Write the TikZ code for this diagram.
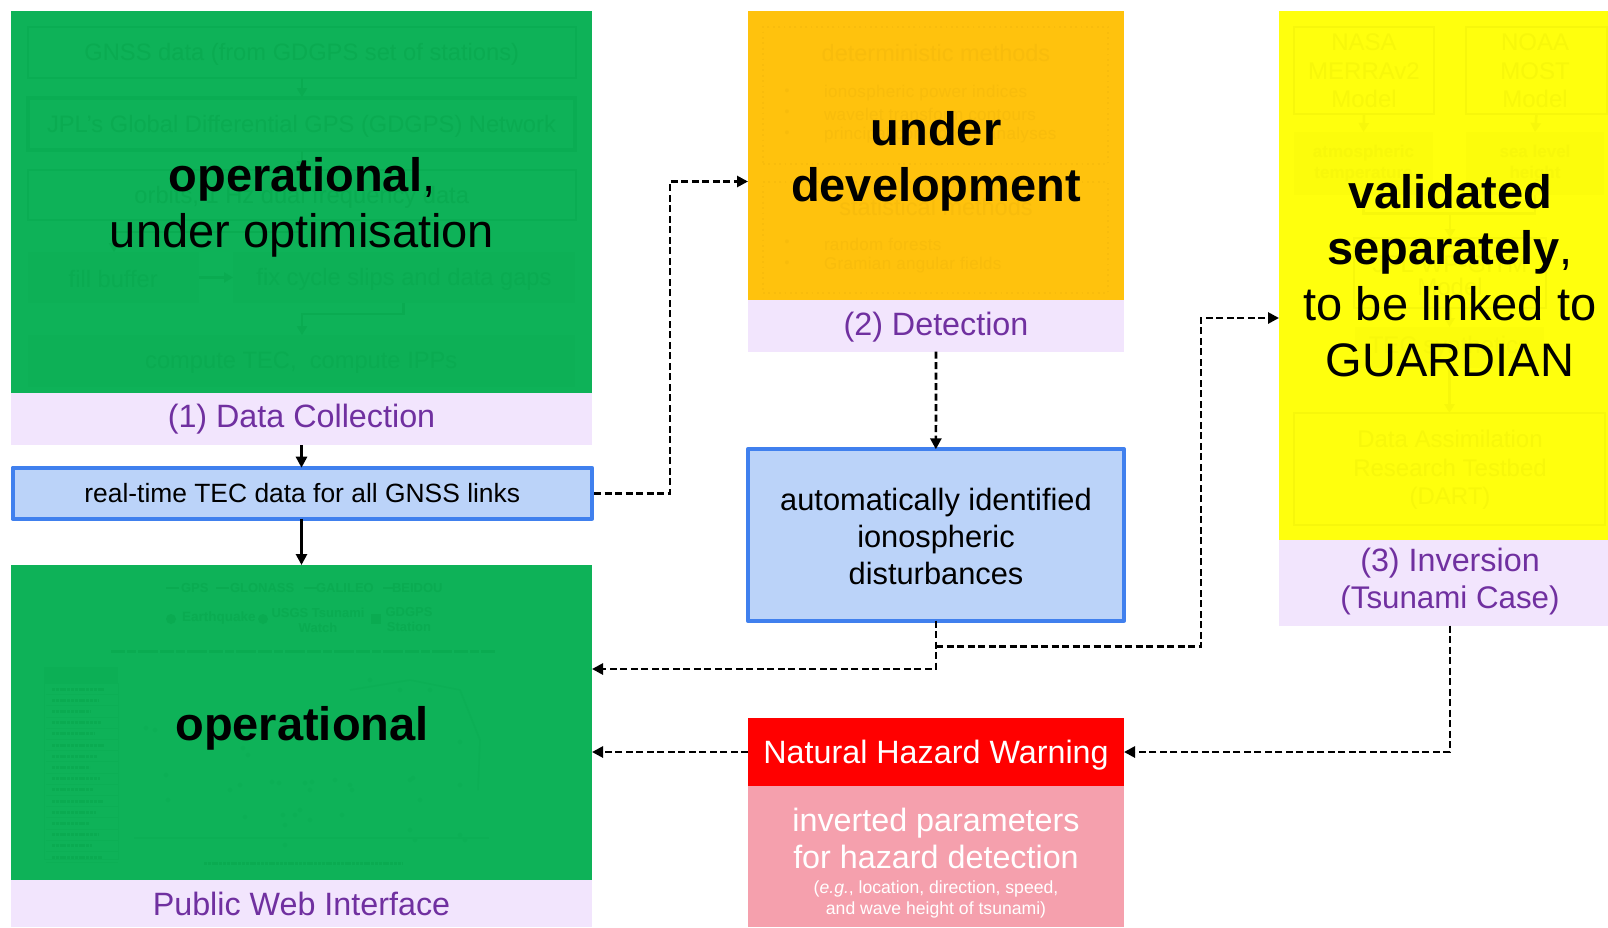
\documentclass[tikz,border=0pt]{standalone}
\usepackage{fontspec}
\setmainfont{Liberation Sans}
\usetikzlibrary{arrows.meta}
\definecolor{grn}{HTML}{0EB258}
\definecolor{grnf}{HTML}{0AAB51}
\definecolor{grnm}{HTML}{0CAF55}
\definecolor{grnl}{HTML}{0AAD53}
\definecolor{grns}{HTML}{0DB056}
\definecolor{org}{HTML}{FFC20D}
\definecolor{orgf}{HTML}{F8BC0C}
\definecolor{yel}{HTML}{FFFF0D}
\definecolor{yelf}{HTML}{F7F70B}
\definecolor{lilac}{HTML}{F2E5FD}
\definecolor{purp}{HTML}{7030A0}
\definecolor{bfill}{HTML}{BBD3F9}
\definecolor{bline}{HTML}{4080EE}
\definecolor{pinkb}{HTML}{F5A0AD}
\newcommand{\fsz}[1]{\fontsize{#1}{#1}\selectfont}
\newcommand{\low}[2][2pt]{\raisebox{0pt}[\dimexpr\height+2\dimexpr#1\relax\relax][\depth]{#2}}
\newcommand{\bx}[7]{\node[#2,minimum width={(#5-#3)*1pt},minimum height={(#6-#4)*1pt}] (#1) at ({(#3+#5)/2},{(#4+#6)/2}) {#7};}
\tikzset{
  x=1pt,y=-1pt,
  every node/.style={inner sep=0pt,outer sep=0pt},
  panel/.style={draw=none},
  lab/.style={fill=lilac,text=purp,align=center},
  bluebox/.style={fill=bfill,draw=bline,line width=4pt,line join=round,align=center},
  main/.style={align=center,text=black},
  conn/.style={draw=black,line width=2.7pt,-{Triangle[length=11pt,width=11pt]}},
  dconn/.style={conn,dash pattern=on 7pt off 3.5pt},
  gb/.style={draw=grnl,line width=2pt,text=grnf,font=\fsz{23.7}},
  gbt/.style={draw=grnl,line width=4pt,text=grnf,font=\fsz{23.7}},
  gbs/.style={fill=grns,text=grnf,font=\fsz{23.7}},
  gar/.style={draw=grnf,line width=2.5pt,-{Triangle[length=9pt,width=10pt]}},
  gpl/.style={draw=grnf,line width=2pt},
  gt/.style={text=grnf,align=center},
  ot/.style={text=orgf,align=center},
  odot/.style={draw=orgf,line width=1.8pt,dash pattern=on 1.8pt off 3.6pt},
  yb/.style={draw=yelf,line width=2pt},
  ybs/.style={fill=yelf!35!yel,text=yelf,align=center,font=\fsz{17}\bfseries\setlength{\baselineskip}{21pt}},
  yar/.style={draw=yelf,line width=2.5pt,-{Triangle[length=9pt,width=10pt]}},
  ypl/.style={draw=yelf,line width=2.5pt},
  yt/.style={text=yelf,align=center},
  grk/.style={draw=grnf,line width=3pt,dash pattern=on 3pt off .8pt},
}
\begin{document}
\begin{tikzpicture}
\useasboundingbox (0,0) rectangle (1608,927);
% ---- panels
\bx{dc}{panel,fill=grn}{11}{10.5}{592}{393}{}
\bx{labdc}{lab,font=\fsz{32.3}}{11}{393}{592}{445}{(1) Data Collection}
\bx{tec}{bluebox,font=\fsz{26.4}}{12.5}{467.7}{592}{518.7}{real-time TEC data for all GNSS links}
\bx{web}{panel,fill=grn}{11}{565}{592}{880}{}
\bx{labweb}{lab,font=\fsz{32.3}}{11}{880}{592}{927}{Public Web Interface}
\bx{det}{panel,fill=org}{748}{10.7}{1124}{300}{}
\bx{labdet}{lab,font=\fsz{32.3}}{748}{300}{1124}{351.7}{\low[1pt]{(2) Detection}}
\bx{auto}{bluebox}{747.7}{449.3}{1124}{620.7}{}
\node[align=center,font=\fsz{30.8}\setlength{\baselineskip}{37pt}] (autot) at (936,536) {automatically identified\\ionospheric\\disturbances};
\bx{warn}{panel,fill=red,text=white,font=\fsz{32.3}}{748}{718}{1124}{786}{\low[3.5pt]{Natural Hazard Warning}}
\bx{par}{panel,fill=pinkb}{748}{786}{1124}{927}{}
\bx{inv}{panel,fill=yel}{1279}{10.7}{1608}{540}{}
\bx{labinv}{lab}{1279}{540}{1608}{625.6}{}
\node[text=purp,align=center,font=\fsz{32.3}\setlength{\baselineskip}{37pt}] (labinvt) at (1450,581.8) {(3) Inversion\\{\fsz{31.3}(Tsunami Case)}};
% ---- faint content, data collection
\bx{g1}{gb}{27.5}{27}{576}{78}{\low{GNSS data (from GDGPS set of stations)}}
\bx{g2}{gbt}{28}{98}{575}{150}{\low{JPL’s Global Differential GPS (GDGPS) Network}}
\bx{g3}{gb}{27.5}{170}{576}{220}{\low{orbits, 1 Hz dual frequency data}}
\bx{g4}{gbs}{27.5}{252}{199}{303}{\low{fill buffer}}
\bx{g5}{gbs}{233}{252}{575}{303}{\low{fix cycle slips and data gaps}}
\bx{g6}{gbs}{27.5}{335}{575}{387}{\low{compute TEC,\ \ compute IPPs}}
\coordinate (g1b) at (302,78); \coordinate (g2t) at (302,97);
\coordinate (g2b) at (302,151); \coordinate (g3t) at (302,170);
\coordinate (g3b) at (302,220); \coordinate (g4k) at (114,232); \coordinate (g4t) at (114,252);
\coordinate (g5b) at (403.6,303); \coordinate (g6k) at (302,314); \coordinate (g6t) at (302,335);
\draw[gar] (g1b) -- (g2t);
\draw[gar] (g2b) -- (g3t);
\draw[gar] (g3b) -- (g3b |- g4k) -- (g4k) -- (g4t);
\draw[gar,line width=3pt] (g4.east) -- (g5.west);
\draw[gar] (g5b) -- (g5b |- g6k) -- (g6k) -- (g6t);
% ---- faint content, web interface
\foreach \xa/\xb in {166/179,216/229,304/317,383/394}{
  \draw[gpl] (\xa,588) -- (\xb,588);
}
\node[gt,font=\bfseries\fsz{13},anchor=west] (lgps) at (181,588) {GPS};
\node[gt,font=\bfseries\fsz{13},anchor=west] (lglo) at (230,588) {GLONASS};
\node[gt,font=\bfseries\fsz{13},anchor=west] (lgal) at (316,588) {GALILEO};
\node[gt,font=\bfseries\fsz{13},anchor=west] (lbei) at (392,588) {BEIDOU};
\fill[grnf] (171,619) circle (5);
\node[gt,font=\bfseries\fsz{13.5},anchor=west] (leq) at (182,618) {Earthquake};
\fill[grnf] (263,619) circle (5);
\node[gt,font=\bfseries\fsz{13}\setlength{\baselineskip}{15pt}] (lts) at (318,620) {USGS Tsunami\\Watch};
\fill[grnf] (371,614) rectangle (381,624);
\node[gt,font=\bfseries\fsz{13}\setlength{\baselineskip}{15pt}] (lst) at (409,620) {GDGPS\\Station};
\draw[draw=grnf,line width=3pt,dash pattern=on 14pt off 2pt on 9pt off 2pt on 20pt off 2pt] (111,651) -- (495,651);
\fill[grnm] (44,667) rectangle (118,683);
\foreach \i in {0,...,15}{
  \pgfmathsetmacro{\ya}{689+11.2*\i}
  \pgfmathsetmacro{\xe}{105-mod(\i*7,17)}
  \draw[grk] (52,\ya) -- (\xe,\ya);
  \draw[draw=grnm,line width=.8pt] (46,\ya+5.6) -- (118,\ya+5.6);
}
\draw[draw=grnm,line width=.8pt] (44,683) rectangle (118,859);
\foreach \x/\y in {146/728,155/730,166/775,168/800,243/748,248/755,230/790,240/785,245/817,272/782,279/783,305/783,310/790,312/782,335/780,350/785,352/790,342/815,410/780,413/778,420/800,460/742,460/785,460/835,300/810,295/815,310/820,283/815,285/825,410/830,415/840,285/845,465/840,370/680,400/690,430/690}{
  \fill[grnm] (\x,\y) circle (2.2);
}
\draw[draw=grnm,line width=1.5pt] (134,838) -- (489,838);
\draw[draw=grnm,line width=1.5pt] (350,690) -- (410,680) -- (460,690) -- (480,740) -- (478,790);
\draw[grk] (204,863) -- (403,863);
% ---- faint content, detection
\bx{o1}{odot}{763}{27}{1108}{164}{}
\bx{o2}{odot}{763}{182}{1108}{293}{}
\node[ot,font=\fsz{23.5}] (ot1) at (936,53) {deterministic methods};
\node[ot,font=\fsz{23.5}] (ot2) at (936,207) {statistical methods};
\foreach \nm/\y/\tx in {a/92/ionospheric power indices,b/113/wavelet transform contours,c/134/principal component analyses,d/243/random forests,e/264/Gramian angular fields}{
  \node[ot,font=\fsz{14}] (ob\nm) at (787,\y) {•};
  \node[ot,font=\fsz{17},anchor=west] (ol\nm) at (824,\y+1) {\addfontfeature{LetterSpace=2}\tx};
}
% ---- faint content, inversion
\bx{y1}{yb}{1294}{27}{1434}{114}{}
\bx{y2}{yb}{1466}{27}{1607}{114}{}
\node[yt,font=\fsz{24}\setlength{\baselineskip}{28.5pt}] (yt1) at (1364,71) {NASA\\MERRAv2\\Model};
\node[yt,font=\fsz{24}\setlength{\baselineskip}{28.5pt}] (yt2) at (1535,71) {NOAA\\MOST\\Model};
\bx{y3}{ybs}{1294}{132}{1433}{195}{atmospheric\\temperature}
\bx{y4}{ybs}{1466}{132}{1604}{195}{sea level\\height}
\bx{y5}{yb}{1354}{238}{1546}{308}{}
\node[yt,font=\fsz{24}\setlength{\baselineskip}{23pt}] (yt5) at (1450,276) {JPL WP-GITM\\Model};
\bx{y6}{ybs,font=\fsz{24}}{1355}{327}{1544}{368}{TEC synthetics}
\bx{y7}{yb}{1294}{413}{1605}{525}{}
\node[yt,font=\fsz{24}\setlength{\baselineskip}{28.5pt}] (yt7) at (1450,470) {Data Assimilation\\Research Testbed\\(DART)};
\draw[yar] (y1.south) -- (y3.north);
\draw[yar] (y2.south) -- (y4.north);
\coordinate (ym) at (1450,213.5);
\draw[ypl] (y3.south) -- (y3.south |- ym) -- (y4.south |- ym) -- (y4.south);
\draw[yar] (ym) -- (y5.north);
\draw[yar] (y5.south) -- (y6.north);
\draw[yar] (y6.south) -- (y7.north);
% ---- parameters text
\node[text=white,align=center,font=\fsz{32.3}\setlength{\baselineskip}{37pt}] (pt1) at (936,838.5) {inverted parameters\\for hazard detection};
\node[text=white,align=center,font=\fsz{17.6}\setlength{\baselineskip}{20.5pt}] (pt2) at (936,899.5) {(\textit{e.g.}, location, direction, speed,\\and wave height of tsunami)};
% ---- overlay statements
\node[main,font=\fsz{47}\setlength{\baselineskip}{56pt}] (m1) at (302,207) {\textbf{operational},\\under optimisation};
\node[main,font=\fsz{47}\bfseries\setlength{\baselineskip}{56pt}] (m2) at (936,161) {under\\development};
\node[main,font=\fsz{47}\setlength{\baselineskip}{56pt}] (m3) at (1450,276) {\textbf{validated}\\\textbf{separately},\\to be linked to\\GUARDIAN};
\node[main,font=\fsz{47}\bfseries] (m4) at (302,728) {operational};
% ---- connectors
\coordinate (inDet) at (748,181.5);
\coordinate (k1) at (670,493.2);
\coordinate (inInv) at (1279,318);
\coordinate (inWebA) at (592,669);
\coordinate (inWebB) at (592,752);
\coordinate (inWarn) at (1124,752);
\coordinate (outWarn) at (748,752);
\coordinate (outInv) at (1450,625.6);
\coordinate (br) at (936,646.7);
\coordinate (k2) at (1201,646.7);
\coordinate (outTec) at (594,493.2);
\draw[conn] (labdc.south) -- (labdc.south |- tec.north);
\draw[conn] (web.north |- tec.south) -- (web.north);
\draw[dconn] (outTec) -- (k1) |- (inDet);
\draw[dconn] (labdet.south) -- (auto.north);
\draw[dconn] (auto.south) |- (inWebA);
\draw[dconn] (br) -- (k2) |- (inInv);
\draw[dconn] (outInv) |- (inWarn);
\draw[dconn] (outWarn) -- (inWebB);
\end{tikzpicture}
\end{document}
